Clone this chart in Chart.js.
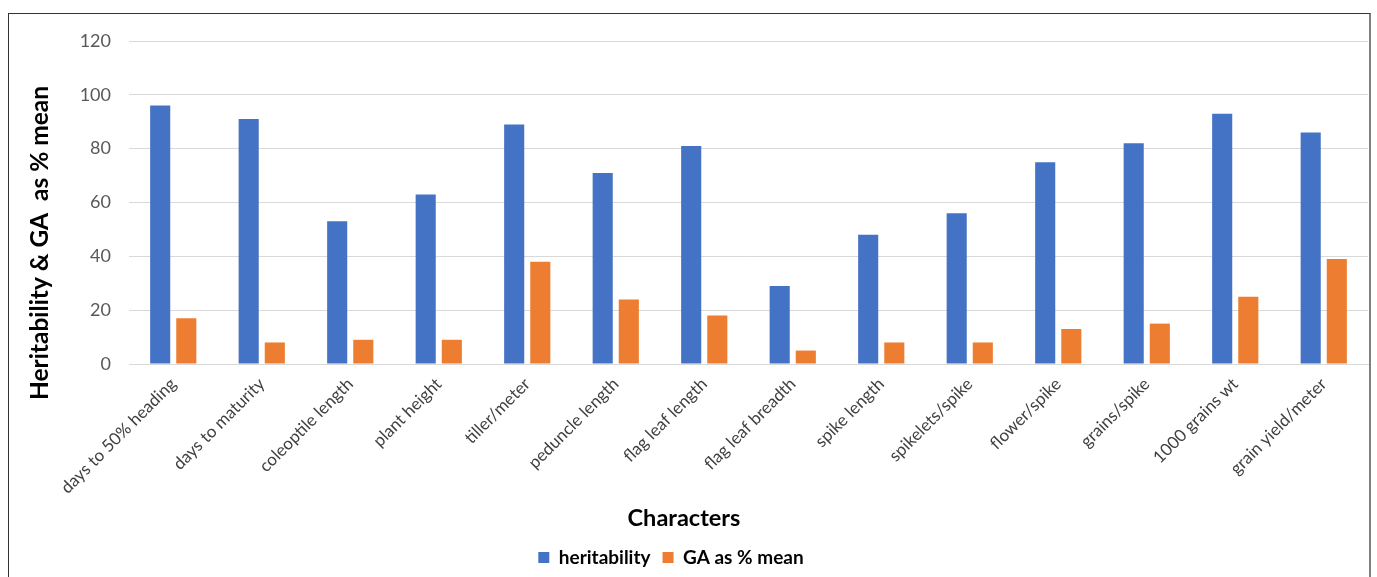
<!DOCTYPE html>
<html>
<head>
<meta charset="utf-8">
<script src="https://cdn.jsdelivr.net/npm/chart.js@4"></script>
<style>
  body { margin: 0; background: #fff; }
  #wrap { position: relative; width: 1377px; height: 577px; }
  #frame {
    position: absolute; left: 8px; top: 13px; width: 1360px; height: 600px;
    border-top: 1px solid #333; border-left: 1px solid #333; border-right: 2px solid #808080;
    pointer-events: none;
  }
</style>
</head>
<body>
<div id="wrap">
  <canvas id="chart" width="1377" height="577"></canvas>
  <div id="frame"></div>
</div>
<script>
const categories = [
  'days to 50% heading', 'days to maturity', 'coleoptile length', 'plant height',
  'tiller/meter', 'peduncle length', 'flag leaf length', 'flag leaf breadth',
  'spike length', 'spikelets/spike', 'flower/spike', 'grains/spike',
  '1000 grains wt', 'grain yield/meter'
];
const heritability = [96, 91, 53, 63, 89, 71, 81, 29, 48, 56, 75, 82, 93, 86];
const gaPercentMean = [17, 8, 9, 9, 38, 24, 18, 5, 8, 8, 13, 15, 25, 39];
const yTicks = [0, 20, 40, 60, 80, 100, 120];
const xTitle = 'Characters';
const yTitle = 'Heritability & GA  as % mean';

const FONT = 'Lato, "Noto Sans", sans-serif';
Chart.defaults.font.family = FONT;

// axis titles placed like the Excel original (centred on the frame, not the plot)
const axisTitles = {
  id: 'axisTitles',
  beforeDraw(chart) {
    // nudge the legend a little left, as in the original
    if (chart.legend) {
      chart.legend.left -= 13;
      chart.legend.right -= 13;
    }
  },
  afterDraw(chart) {
    const c = chart.ctx;
    c.save();
    c.fillStyle = '#000';
    c.textAlign = 'center';
    c.textBaseline = 'middle';
    c.font = 'bold 23.5px ' + FONT;
    c.fillText(xTitle, 684, 518);
    c.translate(40, 243);
    c.rotate(-Math.PI / 2);
    c.font = 'bold 24.5px ' + FONT;
    c.fillText(yTitle, 0, 0);
    c.restore();
  }
};

const ctx = document.getElementById('chart').getContext('2d');
new Chart(ctx, {
  type: 'bar',
  data: {
    labels: categories,
    datasets: [
      {
        label: 'heritability',
        data: heritability,
        backgroundColor: '#4472C4',
        borderWidth: 0,
        categoryPercentage: 0.59,
        barPercentage: 0.77
      },
      {
        label: 'GA as % mean',
        data: gaPercentMean,
        backgroundColor: '#ED7D31',
        borderWidth: 0,
        categoryPercentage: 0.59,
        barPercentage: 0.77
      }
    ]
  },
  options: {
    responsive: false,
    animation: false,
    layout: { padding: { top: 41, right: 9, left: 0, bottom: 0 } },
    plugins: {
      tooltip: { enabled: false },
      legend: {
        position: 'bottom',
        labels: {
          boxWidth: 11,
          boxHeight: 11,
          padding: 12,
          color: '#000',
          font: { size: 19, weight: 'bold' }
        }
      }
    },
    scales: {
      x: {
        grid: { display: false },
        border: { display: true, color: '#d9d9d9' },
        ticks: {
          maxRotation: 45,
          minRotation: 45,
          autoSkip: false,
          color: '#404040',
          padding: 2,
          font: { size: 17 }
        },
        afterFit: (scale) => { scale.height = 172; }
      },
      y: {
        min: 0,
        max: 120,
        afterBuildTicks: (scale) => { scale.ticks = yTicks.map(v => ({ value: v })); },
        grid: { color: '#d9d9d9', drawTicks: false },
        border: { display: false },
        ticks: {
          color: '#595959',
          padding: 18,
          font: { size: 18 }
        },
        afterFit: (scale) => { scale.width = 129; }
      }
    }
  },
  plugins: [axisTitles]
});
</script>
</body>
</html>
